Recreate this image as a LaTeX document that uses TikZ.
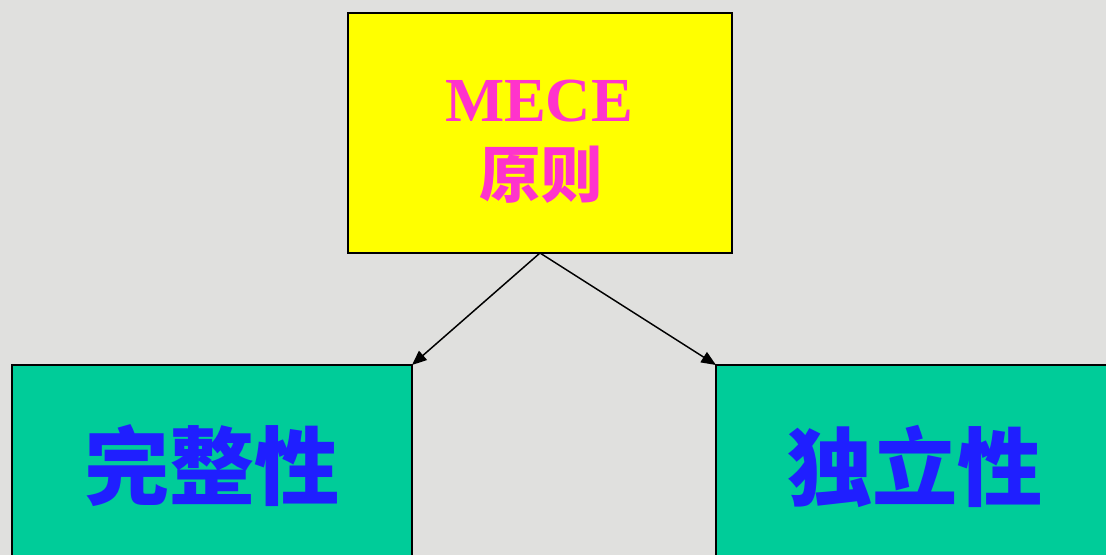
\documentclass[tikz,border=0pt]{standalone}
\usepackage{fontspec}
\setmainfont{Liberation Serif}
\newfontfamily\cjk{Noto Sans CJK SC}
\usetikzlibrary{arrows.meta}
\definecolor{bg}{HTML}{E0E0DE}
\definecolor{boxyellow}{HTML}{FFFF00}
\definecolor{boxgreen}{HTML}{00CC99}
\definecolor{txtmag}{HTML}{FF33CC}
\definecolor{txtblue}{HTML}{1F1FFF}
\tikzset{
  box/.style={draw=black, line width=1.5pt, inner sep=0pt, outer sep=0pt},
  topbox/.style={box, fill=boxyellow, minimum width=384*0.75pt, minimum height=240*0.75pt},
  lowbox/.style={box, fill=boxgreen, minimum width=400*0.75pt, minimum height=260*0.75pt, anchor=north west},
  link/.style={line width=1.1pt, -{Triangle[length=11pt,width=9pt]}},
  toptxt/.style={text=txtmag, inner sep=0pt},
  lowtext/.style={text=txtblue, font=\cjk\bfseries\fontsize{64}{70}\selectfont, inner sep=0pt}
}
\begin{document}
\begin{tikzpicture}[x=0.75pt,y=-0.75pt]
\clip (0,0) rectangle (1106,555);
\fill[bg] (0,0) rectangle (1106,555);
\node[topbox] (top) at (540,133) {};
\node[toptxt, font=\bfseries\fontsize{47}{56}\selectfont, anchor=base] (mece) at (539,122) {MECE};
\node[toptxt, font=\cjk\bfseries\fontsize{46}{56}\selectfont] (yuanze) at (541,175) {原则};
\node[lowbox] (left) at (12,365) {};
\node[lowbox] (right) at (716,365) {};
\node[lowtext] (lt) at (212,466) {完整性};
\node[lowtext] (rt) at (915,466) {独立性};
\draw[link] (top.south) -- (left.north east);
\draw[link] (top.south) -- (right.north west);
\end{tikzpicture}
\end{document}
